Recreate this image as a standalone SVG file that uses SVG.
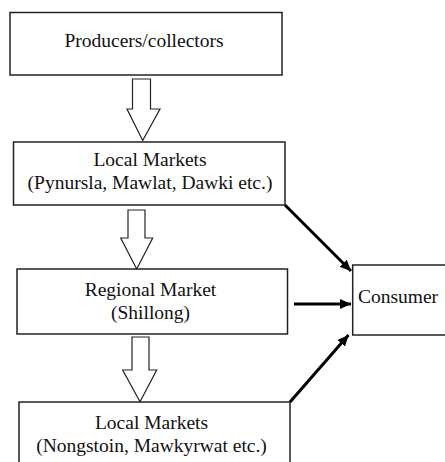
<svg xmlns="http://www.w3.org/2000/svg" width="445" height="462" viewBox="0 0 445 462">
<style>
.box{fill:#fff;stroke:#222;stroke-width:1.5}
.hollow{fill:#fff;stroke:#222;stroke-width:1.2;stroke-linejoin:miter}
.t{font-family:"Liberation Serif","Times New Roman",serif;font-size:19.5px;fill:#111;text-anchor:middle}
.conn{stroke:#000;stroke-width:3;fill:none}
</style>
<defs>
<marker id="ah" markerWidth="12" markerHeight="10" refX="11" refY="5" orient="auto" markerUnits="userSpaceOnUse">
<path d="M0,0 L11,5 L0,10 Z" fill="#000"/>
</marker>
</defs>
<rect width="445" height="462" fill="#fff"/>
<g id="producers">
<rect class="box" x="10" y="12.5" width="272" height="62.5"/>
<text class="t" x="144" y="47">Producers/collectors</text>
</g>
<g id="local1">
<rect class="box" x="13.5" y="142" width="271.5" height="63"/>
<text class="t" x="150" y="166">Local Markets</text>
<text class="t" x="150" y="188.5">(Pynursla, Mawlat, Dawki etc.)</text>
</g>
<g id="regional">
<rect class="box" x="17" y="269" width="270.5" height="65"/>
<text class="t" x="150.5" y="295.5">Regional Market</text>
<text class="t" x="150.5" y="319">(Shillong)</text>
</g>
<g id="consumer">
<rect class="box" x="352.7" y="265" width="100" height="70"/>
<text class="t" x="398" y="303" >Consumer</text>
</g>
<g id="local2">
<rect class="box" x="19" y="402" width="271" height="70"/>
<text class="t" x="151.5" y="428.5">Local Markets</text>
<text class="t" x="151.5" y="452">(Nongstoin, Mawkyrwat etc.)</text>
</g>
<g id="connectors">
<path class="hollow" d="M132.5,79 L150.5,79 L150.5,109 L160,109 L142.7,140.5 L127,109 L132.5,109 Z"/>
<path class="hollow" d="M128,210 L145,210 L145,238 L152.7,238 L136.7,269 L120.7,238 L128,238 Z"/>
<path class="hollow" d="M132,337 L149,337 L149,370 L156.7,370 L140,401.7 L122.7,370 L132,370 Z"/>
<line class="conn" x1="285" y1="205" x2="351" y2="271" marker-end="url(#ah)"/>
<line class="conn" x1="294" y1="304" x2="351" y2="304" marker-end="url(#ah)"/>
<line class="conn" x1="290" y1="402" x2="348.5" y2="335" marker-end="url(#ah)"/>
</g>
</svg>
